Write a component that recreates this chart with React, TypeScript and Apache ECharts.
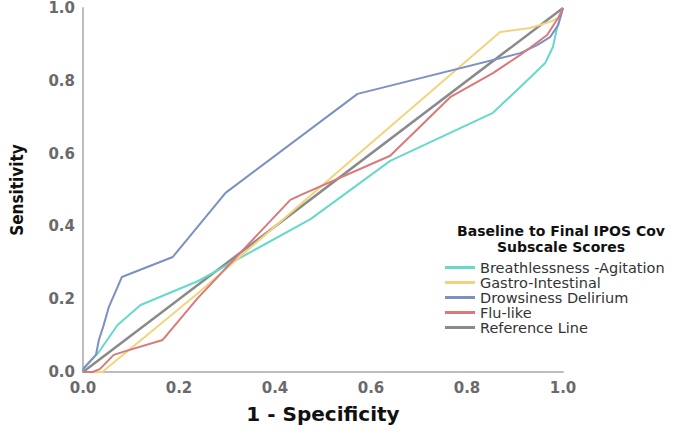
import React, { useEffect, useRef } from "react";
import * as echarts from "echarts";

const xTicks = [0, 0.2, 0.4, 0.6, 0.8, 1.0];
const yTicks = [0, 0.2, 0.4, 0.6, 0.8, 1.0];

const seriesNames = [
  "Breathlessness -Agitation",
  "Gastro-Intestinal",
  "Drowsiness Delirium",
  "Flu-like",
  "Reference Line",
];

const breathlessness: number[][] = [
  [0, 0], [0.002, 0.011], [0.033, 0.055], [0.072, 0.129], [0.12, 0.184],
  [0.24, 0.25], [0.474, 0.42], [0.64, 0.58], [0.854, 0.712], [0.911, 0.783],
  [0.963, 0.849], [0.979, 0.893], [0.988, 0.948], [1, 1],
];

const gastro: number[][] = [
  [0, 0], [0.04, 0], [0.24, 0.217], [0.578, 0.604], [0.869, 0.934],
  [0.931, 0.945], [0.973, 0.962], [0.994, 0.975], [1, 1],
];

const drowsiness: number[][] = [
  [0, 0], [0.002, 0.011], [0.027, 0.047], [0.033, 0.088], [0.042, 0.124],
  [0.054, 0.179], [0.081, 0.261], [0.187, 0.316], [0.297, 0.492], [0.572, 0.764],
  [0.911, 0.876], [0.946, 0.898], [0.973, 0.92], [0.99, 0.953], [1, 1],
];

const fluLike: number[][] = [
  [0, 0], [0.02, 0], [0.035, 0.008], [0.064, 0.047], [0.085, 0.056],
  [0.166, 0.088], [0.239, 0.203], [0.432, 0.473], [0.453, 0.486], [0.64, 0.594],
  [0.765, 0.755], [0.854, 0.821], [0.911, 0.871], [0.967, 0.926], [0.99, 0.973], [1, 1],
];

const referenceLine: number[][] = [
  [0, 0], [1, 1],
];

const colors = ["#66d9cb", "#f3d47c", "#7d90c4", "#d9797a", "#8a8a8a"];

const legendTitle = "Baseline to Final IPOS Cov\nSubscale Scores";

export default function App() {
  const ref = useRef<HTMLDivElement>(null);
  useEffect(() => {
    if (!ref.current) return;
    const chart = echarts.init(ref.current, null, { renderer: "svg" });
    const datasets = [breathlessness, gastro, drowsiness, fluLike, referenceLine];
    const tickFont = {
      fontFamily: "DejaVu Sans",
      fontWeight: "bold" as const,
      fontSize: 15,
      color: "#6a6a6a",
    };
    chart.setOption({
      animation: false,
      backgroundColor: "#ffffff",
      grid: { left: 82, right: 122, top: 8, bottom: 59 },
      xAxis: {
        type: "value",
        min: 0,
        max: 1,
        interval: 0.2,
        name: "1 - Specificity",
        nameLocation: "middle",
        nameGap: 32,
        nameTextStyle: {
          fontFamily: "DejaVu Sans",
          fontWeight: "bold",
          fontSize: 20,
          color: "#111",
        },
        axisLine: { show: true, lineStyle: { color: "#bdbdbd", width: 2 } },
        axisTick: { show: false },
        splitLine: { show: false },
        axisLabel: {
          ...tickFont,
          margin: 8,
          formatter: (v: number) => v.toFixed(1),
          customValues: xTicks,
        },
      },
      yAxis: {
        type: "value",
        min: 0,
        max: 1,
        interval: 0.2,
        name: "Sensitivity",
        nameLocation: "middle",
        nameGap: 58,
        nameTextStyle: {
          fontFamily: "DejaVu Sans Condensed, DejaVu Sans",
          fontWeight: "bold",
          fontSize: 17,
          color: "#111",
        },
        axisLine: { show: true, lineStyle: { color: "#bdbdbd", width: 2 } },
        axisTick: { show: false },
        splitLine: { show: false },
        axisLabel: {
          ...tickFont,
          margin: 8,
          formatter: (v: number) => v.toFixed(1),
          customValues: yTicks,
        },
      },
      legend: {
        orient: "vertical",
        left: 440,
        top: 255,
        itemWidth: 30,
        itemHeight: 3,
        itemGap: 0,
        icon: "rect",
        data: seriesNames,
        textStyle: {
          fontFamily: "DejaVu Sans",
          fontSize: 14.5,
          lineHeight: 15,
          color: "#333",
        },
      },
      graphic: [
        {
          type: "text",
          x: 561,
          y: 223,
          style: {
            text: legendTitle,
            fontFamily: "DejaVu Sans",
            fontWeight: "bold",
            fontSize: 14,
            lineHeight: 16,
            fill: "#111",
            align: "center",
            verticalAlign: "top",
          },
        },
      ],
      series: seriesNames.map((name, i) => ({
        name,
        type: "line",
        data: datasets[i],
        showSymbol: false,
        symbol: "none",
        smooth: false,
        color: colors[i],
        lineStyle: { color: colors[i], width: i === 4 ? 2.5 : 2 },
        z: i === 4 ? 1 : 2,
      })),
    });
    return () => chart.dispose();
  }, []);
  return (
    <div
      ref={ref}
      style={{ position: "fixed", left: 0, top: 0, width: 685, height: 431 }}
    />
  );
}
